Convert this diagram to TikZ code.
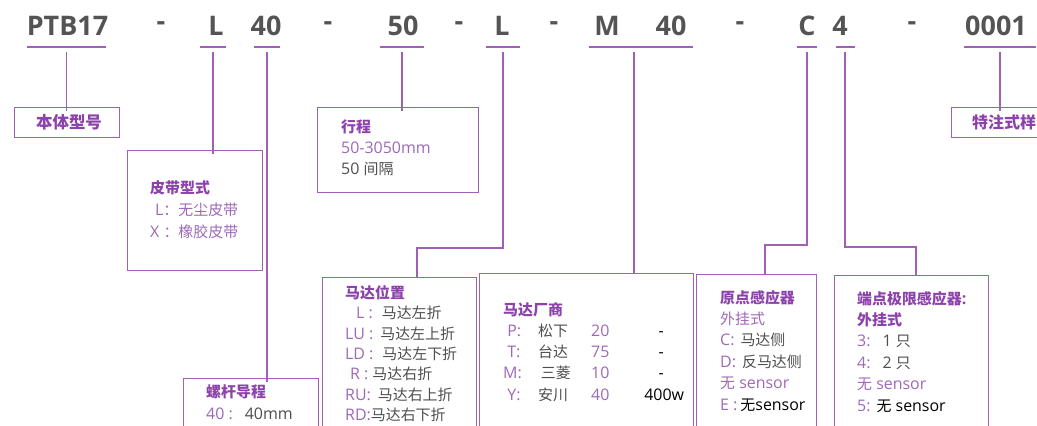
\documentclass[tikz,border=0pt]{standalone}
\usepackage{fontspec}
\setmainfont{Open Sans}[Scale=1.1]
\newfontfamily\cjk{Noto Sans CJK SC}[Scale=1.03]
\usepackage{tikz}

\definecolor{linepurple}{RGB}{160,96,182}
\definecolor{headpurple}{RGB}{140,66,170}
\definecolor{softpurple}{RGB}{158,104,184}
\definecolor{textgray}{RGB}{78,78,78}
\definecolor{codegray}{RGB}{84,84,84}

\newcommand{\zh}[1]{{\cjk #1}}
\newcommand{\boxhead}[1]{\textcolor{headpurple}{\bfseries #1}}
\newcommand{\purtxt}[1]{\textcolor{softpurple}{#1}}
\newcommand{\graytxt}[1]{\textcolor{textgray}{#1}}
\newcommand{\blktxt}[1]{\textcolor{black}{#1}}

\begin{document}
\begin{tikzpicture}[x=1pt, y=-1pt,
                    code/.style={font=\fontsize{24.5}{24.5}\selectfont\bfseries, text=codegray, inner sep=0},
                    uline/.style={fill=linepurple, inner sep=0, minimum height=1.6pt},
                    box/.style={draw=linepurple, line width=1.3pt, anchor=north west, inner sep=0},
                    conn/.style={draw=linepurple, line width=1.2pt},
                    info/.style={anchor=north west, inner sep=0, align=left,
                                 font=\fontsize{14.5}{21.4}\selectfont, text=textgray}]

  \useasboundingbox (0,0) rectangle (1037,426);
  \clip (0,0) rectangle (1037,426);

  % model code
  \node[code] (ptb)   at (67.5,26) {PTB17};
  \node[code] (dasha) at (161,26) {-};
  \node[code] (belt)  at (216,26) {L};
  \node[code] (lead)  at (266,26) {40};
  \node[code] (dashb) at (328,26) {-};
  \node[code] (strk)  at (403,26) {50};
  \node[code] (dashc) at (459,26) {-};
  \node[code] (mpos)  at (502,26) {L};
  \node[code] (dashd) at (554,26) {-};
  \node[code] (mbrand) at (607,26) {M};
  \node[code] (mpow)  at (671,26) {40};
  \node[code] (dashe) at (740,26) {-};
  \node[code] (home)  at (807,26) {C};
  \node[code] (limit) at (840,26) {4};
  \node[code] (dashf) at (912,26) {-};
  \node[code] (spec)  at (996,26) {0001};

  % underlines
  \node[uline, minimum width=79pt]  (uptb)   at (66.5,47) {};
  \node[uline, minimum width=26pt]  (ubelt)  at (213,47)  {};
  \node[uline, minimum width=26pt]  (ulead)  at (267,47)  {};
  \node[uline, minimum width=44pt]  (ustrk)  at (402,47)  {};
  \node[uline, minimum width=34pt]  (umpos)  at (503,47)  {};
  \node[uline, minimum width=104pt] (umotor) at (641,47)  {};
  \node[uline, minimum width=20pt]  (uhome)  at (807,47)  {};
  \node[uline, minimum width=19pt]  (ulimit) at (845,47)  {};
  \node[uline, minimum width=72pt]  (uspec)  at (1000,47) {};

  % boxes
  \node[box, minimum width=105pt, minimum height=30pt]  (bodybox) at (14,107)  {};
  \node[box, minimum width=135pt, minimum height=120pt] (beltbox) at (127,150) {};
  \node[box, minimum width=135pt, minimum height=70pt]  (leadbox) at (183,378) {};
  \node[box, minimum width=161pt, minimum height=85pt]  (strkbox) at (317,107) {};
  \node[box, minimum width=154pt, minimum height=170pt] (posbox)  at (322,277) {};
  \node[box, minimum width=214pt, minimum height=170pt] (mfgbox)  at (479,273) {};
  \node[box, minimum width=120pt, minimum height=170pt] (homebox) at (696,274) {};
  \node[box, minimum width=154pt, minimum height=170pt] (limbox)  at (834,275) {};
  \node[box, minimum width=100pt, minimum height=30pt]  (specbox) at (951,107) {};

  % bends
  \coordinate (posbend)  at (417,248);
  \coordinate (homebend) at (765,245);
  \coordinate (limbend)  at (916,247);

  % connectors
  \draw[conn] ([yshift=-4pt]uptb.south)  -- ([yshift=-4pt]uptb.south |- bodybox.north);
  \draw[conn] ([yshift=-4pt]ubelt.south) -- ([yshift=-4pt]ubelt.south |- beltbox.north);
  \draw[conn] ([yshift=-4pt]ulead.south) -- ([yshift=-4pt]ulead.south |- leadbox.north);
  \draw[conn] ([yshift=-4pt]ustrk.south) -- ([yshift=-4pt]ustrk.south |- strkbox.north);
  \draw[conn] ([yshift=-4pt]umpos.south) |- (posbend) -- (posbend |- posbox.north);
  \draw[conn] ([xshift=-7pt,yshift=-4pt]umotor.south) -- ([xshift=-7pt]umotor.south |- mfgbox.north);
  \draw[conn] ([yshift=-4pt]uhome.south) |- (homebend) -- (homebend |- homebox.north);
  \draw[conn] ([yshift=-4pt]ulimit.south) |- (limbend) -- (limbend |- limbox.north);
  \draw[conn] ([yshift=-4pt]uspec.south) -- ([yshift=-4pt]uspec.south |- specbox.north);

  % box texts
  \node[font=\cjk\fontsize{16}{16}\selectfont\bfseries, text=headpurple, inner sep=0] (bodytxt) at (69,122) {本体型号};
  \node[font=\cjk\fontsize{15.5}{15.5}\selectfont\bfseries, text=headpurple, inner sep=0, anchor=west] (spectxt) at (972,122) {特注式样};

  \node[info, font=\fontsize{14.5}{22}\selectfont] (belttxt) at (150,180)
    {\boxhead{\zh{皮带型式}}\\ \hspace{5pt}\purtxt{L\zh{：无尘皮带}}\\ \purtxt{X \zh{：橡胶皮带}}};

  \node[info, font=\fontsize{14.5}{21}\selectfont] (strktxt) at (341,120)
    {\boxhead{\zh{行程}}\\ \purtxt{50-3050mm}\\ \graytxt{50 \zh{间隔}}};

  \node[info, font=\fontsize{14.5}{22}\selectfont] (leadtxt) at (206,385)
    {\boxhead{\zh{螺杆导程}}\\ \purtxt{40 :}\hspace{12pt}\graytxt{40mm}};

  \node[info, font=\fontsize{14.5}{20.4}\selectfont] (postxt) at (345,285)
    {\boxhead{\zh{马达位置}}\\
     \hspace{11pt}\purtxt{L :}\hspace{9pt}\graytxt{\zh{马达左折}}\\
     \purtxt{LU :}\hspace{7pt}\graytxt{\zh{马达左上折}}\\
     \purtxt{LD :}\hspace{9pt}\graytxt{\zh{马达左下折}}\\
     \hspace{5pt}\purtxt{R :}\hspace{4pt}\graytxt{\zh{马达右折}}\\
     \purtxt{RU:}\hspace{7pt}\graytxt{\zh{马达右上折}}\\
     \purtxt{RD:}\graytxt{\zh{马达右下折}}};

  \node[info, font=\fontsize{14.5}{21.3}\selectfont] (mfgtxt) at (503,302)
    {\boxhead{\zh{马达厂商}}\\
     \makebox[35pt][l]{\purtxt{~P:}}\makebox[53pt][l]{\graytxt{\zh{松下}}}\makebox[48pt][l]{\purtxt{20}}\makebox[44pt][c]{\blktxt{-}}\\
     \makebox[35pt][l]{\purtxt{~T:}}\makebox[53pt][l]{\graytxt{\zh{台达}}}\makebox[48pt][l]{\purtxt{75}}\makebox[44pt][c]{\blktxt{-}}\\
     \makebox[35pt][l]{\purtxt{M:}}\makebox[53pt][l]{\graytxt{\,\zh{三菱}}}\makebox[48pt][l]{\purtxt{10}}\makebox[44pt][c]{\blktxt{-}}\\
     \makebox[35pt][l]{\purtxt{~Y:}}\makebox[53pt][l]{\graytxt{\zh{安川}}}\makebox[48pt][l]{\purtxt{40}}\makebox[50pt][c]{\blktxt{400w}}};

  \node[info] (hometxt) at (720,290)
    {\boxhead{\zh{原点感应器}}\\
     \purtxt{\zh{外挂式}}\\
     \purtxt{C:}\hspace{6pt}\graytxt{\zh{马达侧}}\\
     \purtxt{D:}\hspace{6pt}\graytxt{\zh{反马达侧}}\\
     \purtxt{\zh{无} sensor}\\
     \purtxt{E :}\hspace{3pt}\blktxt{\zh{无}sensor}};

  \node[info] (limtxt) at (857,291)
    {\boxhead{\zh{端点极限感应器}:}\\
     \boxhead{\zh{外挂式}}\\
     \purtxt{3:}\hspace{12pt}\graytxt{1 \zh{只}}\\
     \purtxt{4:}\hspace{12pt}\graytxt{2 \zh{只}}\\
     \purtxt{\zh{无} sensor}\\
     \purtxt{5:}\hspace{6pt}\blktxt{\zh{无} sensor}};
\end{tikzpicture}
\end{document}
